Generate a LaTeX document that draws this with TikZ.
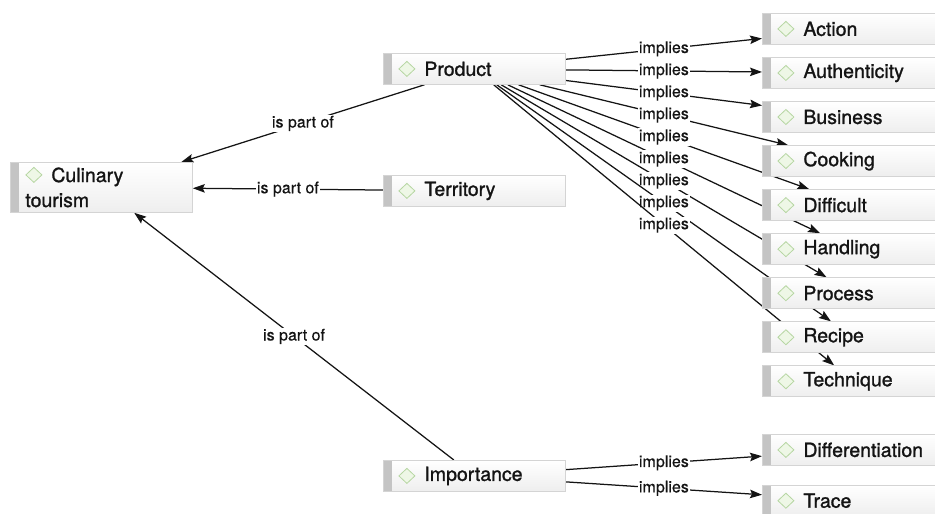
\documentclass[tikz,border=0pt]{standalone}
\usepackage{fontspec}
\setmainfont{TeX Gyre Heros}
\newfontfamily\conceptfont{TeX Gyre Heros}[FakeBold=1.2]
\newfontfamily\relfont{TeX Gyre Heros}[FakeBold=0.4]
\usetikzlibrary{positioning, arrows.meta}
\pgfdeclarelayer{background}
\pgfsetlayers{background,main}
\definecolor{boxline}{RGB}{212,212,212}
\definecolor{boxbar}{RGB}{196,196,196}
\definecolor{boxfill}{RGB}{238,238,238}
\definecolor{iconline}{RGB}{182,214,162}
\definecolor{iconfill}{RGB}{238,247,230}
\definecolor{ink}{RGB}{20,20,20}
\tikzset{
    >={Stealth[length=12pt, width=8.5pt, inset=2pt, fill=ink]}, % filled arrowheads
    concept/.style={draw=boxline, line width=0.8pt,
        top color=white, bottom color=boxfill,
        minimum height=31pt, text width=152pt, inner xsep=15pt, inner ysep=0pt,
        align=left, text=ink, font=\conceptfont\fontsize{19.5}{25}\selectfont,
        execute at begin node={\hspace*{26pt}},
        path picture={
            \fill[boxbar] (path picture bounding box.north west)
                rectangle ([xshift=9pt]path picture bounding box.south west);
            \draw[iconline, fill=iconfill, line width=0.8pt]
                ([xshift=23.5pt, yshift=#1]path picture bounding box.west)
                +(-8,0) -- +(0,7.5) -- +(8,0) -- +(0,-7.5) -- cycle;
        }},
    concept/.default=0pt,
    relation/.style={->, draw=ink, line width=1.25pt},
    rel/.style={fill=white, inner sep=1pt, text=ink, font=\relfont\fontsize{16}{16}\selectfont},
}
\begin{document}
\begin{tikzpicture}[x=1pt, y=-1pt]
    \useasboundingbox (0,0) rectangle (935,514);

    % --- Concepts ---
    \node[concept=12.5pt, minimum height=50pt, anchor=north west] (culinary) at (10,162) {Culinary\\tourism};

    \node[concept, anchor=north west] (product) at (383,53) {Product};
    \node[concept, anchor=north west] (territory) at (383,175) {Territory};
    \node[concept, anchor=north west] (importance) at (383,460) {Importance};

    \node[concept, anchor=north west] (action) at (762,13) {Action};
    \node[concept] (authenticity) [below=12.25pt of action] {Authenticity};
    \node[concept] (business) [below=12.25pt of authenticity] {Business};
    \node[concept] (cooking) [below=12.25pt of business] {Cooking};
    \node[concept] (difficult) [below=12.25pt of cooking] {Difficult};
    \node[concept] (handling) [below=12.25pt of difficult] {Handling};
    \node[concept] (process) [below=12.25pt of handling] {Process};
    \node[concept] (recipe) [below=12.25pt of process] {Recipe};
    \node[concept] (technique) [below=12.25pt of recipe] {Technique};

    \node[concept, anchor=north west] (differentiation) at (762,434) {Differentiation};
    \node[concept] (trace) [below=19pt of differentiation] {Trace};

    % --- Relations (behind the boxes) ---
    \begin{pgfonlayer}{background}
    \path[relation]
        (product) edge node[rel] {is part of} (culinary)
                  edge node[rel] {implies} (action)
                  edge node[rel] {implies} (authenticity)
                  edge node[rel] {implies} (business)
                  edge node[rel] {implies} (cooking)
                  edge node[rel] {implies} (difficult)
                  edge node[rel] {implies} (handling)
                  edge node[rel] {implies} (process)
                  edge node[rel] {implies} (recipe)
                  edge node[rel] {implies} (technique)

        (territory) edge node[rel] {is part of} (culinary)

        (importance) edge node[rel] {is part of} (culinary)
                     edge node[rel] {implies} (differentiation)
                     edge node[rel] {implies} (trace);
    \end{pgfonlayer}

\end{tikzpicture}
\end{document}
